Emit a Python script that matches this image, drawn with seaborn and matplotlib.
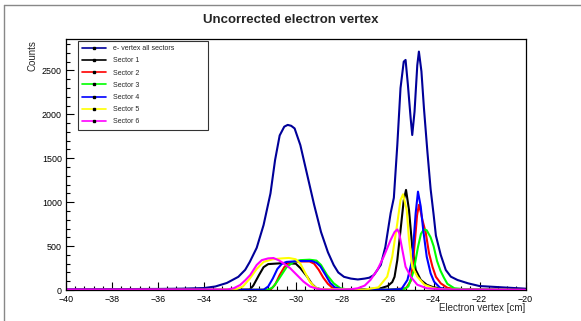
import numpy as np
import pandas as pd
import matplotlib
matplotlib.use("Agg")
import matplotlib.pyplot as plt
from matplotlib.lines import Line2D
from matplotlib.ticker import MultipleLocator
import seaborn as sns

# ---- data: electron vertex z [cm] vs counts ----
all_x = [-40, -38, -36, -35, -34, -33.5, -33, -32.5, -32.2, -32.0, -31.7, -31.4, -31.1, -30.9,
         -30.7, -30.5, -30.35, -30.2, -30.05, -29.8, -29.5, -29.2, -28.9, -28.6, -28.35, -28.15,
         -27.9, -27.6, -27.3, -27.0, -26.8, -26.6, -26.3, -26.1, -25.87, -25.73, -25.58, -25.44,
         -25.3, -25.22, -25.12, -25.0, -24.93, -24.83, -24.71, -24.64, -24.53, -24.42, -24.27,
         -24.13, -24.0, -23.9, -23.69, -23.47, -23.25, -22.96, -22.5, -22.0, -21.0, -20.0]
all_y = [8, 10, 12, 15, 22, 40, 80, 150, 230, 320, 480, 740, 1100, 1480,
         1760, 1860, 1880, 1870, 1840, 1650, 1310, 970, 660, 430, 285, 200,
         150, 130, 120, 130, 140, 170, 285, 490, 875, 1050, 1650, 2300,
         2600, 2620, 2340, 1960, 1765, 2030, 2560, 2715, 2490, 2070, 1575,
         1150, 860, 620, 400, 228, 152, 114, 76, 45, 30, 15]

s1_x = [-40, -33, -32.0, -31.85, -31.6, -31.4, -31.2, -30.6, -30.0, -29.8, -29.5, -29.3, -29.1,
        -28.8, -28.0, -27.0, -26.3, -26.0, -25.8, -25.7, -25.58, -25.44, -25.3, -25.2, -25.07,
        -24.93, -24.78, -24.56, -24.3, -24.0, -23.5, -22.0, -20.0]
s1_y = [0, 2, 5, 50, 170, 260, 295, 305, 300, 250, 150, 70, 20,
        5, 4, 8, 20, 45, 90, 150, 340, 680, 1020, 1140, 910,
        490, 230, 115, 60, 30, 12, 3, 0]

s2_x = [-40, -33, -31.1, -30.9, -30.7, -30.5, -30.3, -29.9, -29.4, -29.2, -29.0, -28.8, -28.6,
        -28.4, -28.1, -26.0, -25.2, -25.0, -24.9, -24.8, -24.72, -24.64, -24.55, -24.49, -24.34,
        -24.2, -24.05, -23.9, -23.69, -23.4, -23.0, -20.0]
s2_y = [0, 1, 3, 60, 170, 260, 310, 325, 325, 300, 230, 140, 70,
        25, 8, 3, 20, 100, 300, 600, 850, 970, 880, 800, 650,
        420, 265, 150, 76, 25, 8, 0]

s3_x = [-40, -33, -31.2, -31.0, -30.8, -30.6, -30.4, -30.1, -29.8, -29.4, -29.1, -28.9, -28.64,
        -28.35, -28.06, -27.7, -26.0, -25.3, -25.1, -24.95, -24.86, -24.68, -24.55, -24.42,
        -24.3, -24.13, -24.0, -23.85, -23.7, -23.55, -23.4, -23.1, -22.5, -20.0]
s3_y = [0, 1, 3, 30, 100, 180, 260, 320, 340, 345, 335, 285, 171,
        76, 20, 5, 3, 10, 40, 150, 228, 490, 640, 690,
        680, 600, 500, 330, 220, 140, 70, 20, 5, 0]

s4_x = [-40, -33, -31.4, -31.2, -31.0, -30.8, -30.6, -30.4, -29.8, -29.3, -29.1, -28.93, -28.7,
        -28.5, -28.3, -28.0, -26.0, -25.4, -25.14, -24.93, -24.78, -24.68, -24.56, -24.45,
        -24.3, -24.13, -23.98, -23.7, -23.3, -20.0]
s4_y = [0, 1, 3, 40, 130, 240, 300, 320, 330, 330, 310, 270, 170,
        80, 30, 8, 3, 10, 114, 342, 875, 1120, 950, 680,
        380, 190, 95, 20, 5, 0]

s5_x = [-40, -33.5, -32.6, -32.3, -32.0, -31.7, -31.4, -31.0, -30.6, -30.3, -30.0, -29.8, -29.6,
        -29.4, -29.2, -29.0, -27.0, -26.4, -26.02, -25.8, -25.58, -25.44, -25.33, -25.17,
        -25.07, -24.93, -24.71, -24.4, -24.0, -23.5, -20.0]
s5_y = [0, 2, 8, 40, 130, 240, 320, 350, 360, 365, 350, 300, 200,
        100, 40, 10, 5, 30, 152, 380, 760, 1025, 1090, 910,
        570, 265, 152, 60, 20, 5, 0]

s6_x = [-40, -36, -33.0, -32.7, -32.42, -32.2, -31.98, -31.7, -31.48, -31.2, -30.97, -30.75,
        -30.53, -30.24, -29.95, -29.66, -29.37, -29.0, -28.5, -27.6, -27.3, -27.0, -26.75,
        -26.45, -26.17, -25.87, -25.7, -25.58, -25.5, -25.36, -25.22, -25.0, -24.71, -24.3,
        -23.5, -20.0]
s6_y = [5, 6, 5, 20, 57, 110, 171, 285, 340, 360, 364, 340,
        304, 247, 171, 95, 38, 10, 3, 8, 20, 50, 114,
        228, 380, 570, 660, 690, 650, 456, 265, 152, 60, 20,
        5, 2]

series_names = ["e- vertex all sectors", "Sector 1", "Sector 2", "Sector 3",
                "Sector 4", "Sector 5", "Sector 6"]
series_x = [all_x, s1_x, s2_x, s3_x, s4_x, s5_x, s6_x]
series_y = [all_y, s1_y, s2_y, s3_y, s4_y, s5_y, s6_y]
colors = ["#000099", "#000000", "#ff0000", "#00ff00", "#0000ff", "#ffff00", "#ff00ff"]

frames = [pd.DataFrame({"vz": x, "counts": y, "series": n})
          for n, x, y in zip(series_names, series_x, series_y)]
df = pd.concat(frames, ignore_index=True)

sns.set_theme(style="white")
plt.rcParams["font.family"] = ["Liberation Sans", "DejaVu Sans"]

fig = plt.figure(figsize=(5.81, 3.21), dpi=100)
ax = fig.add_axes([66 / 581, 1 - 290 / 321, (525.5 - 66) / 581, (290 - 38.5) / 321])

sns.lineplot(data=df, x="vz", y="counts", hue="series", hue_order=series_names,
             palette=colors, estimator=None, sort=False, linewidth=1.5,
             legend=False, ax=ax)

ax.set_xlim(-40, -20)
ax.set_ylim(0, 2864)

# axis frame and ticks
for sp in ax.spines.values():
    sp.set_visible(True)
    sp.set_color("black")
    sp.set_linewidth(0.9)
ax.xaxis.set_major_locator(MultipleLocator(2))
ax.xaxis.set_minor_locator(MultipleLocator(0.4))
ax.yaxis.set_major_locator(MultipleLocator(500))
ax.yaxis.set_minor_locator(MultipleLocator(100))
ax.tick_params(which="both", direction="in", bottom=True, left=True, top=False,
               right=False, colors="black", width=0.8, labelsize=6.4)
ax.tick_params(axis="x", pad=3.5)
ax.tick_params(axis="y", pad=3)
ax.tick_params(which="major", length=6)
ax.tick_params(which="minor", length=3)

ax.set_xlabel("")
ax.set_ylabel("")
fig.text(525 / 581, 1 - 308 / 321, "Electron vertex [cm]", ha="right", va="center",
         fontsize=7)
fig.text(32 / 581, 1 - 40 / 321, "Counts", ha="center", va="top", rotation=90,
         fontsize=7)
fig.text(291 / 581, 1 - 20 / 321, "Uncorrected electron vertex", ha="center",
         va="center", fontsize=9.5, fontweight="bold")

# legend
handles = [Line2D([], [], color=c, lw=1.2, marker="s", markersize=1.5,
                  markerfacecolor="black", markeredgecolor="black")
           for c in colors]
leg = ax.legend(handles, series_names, loc="upper left",
                bbox_to_anchor=(0.026, 0.648, 0.283, 0.342), mode="expand",
                borderaxespad=0, fontsize=5.0, handlelength=3.5, handletextpad=0.9,
                labelspacing=0.75, borderpad=0.6, frameon=True, fancybox=False)
leg.get_frame().set_edgecolor("black")
leg.get_frame().set_linewidth(0.8)

# canvas border
fig.add_artist(Line2D([4 / 581, 1.0], [1 - 4.5 / 321] * 2, color="#888888", lw=1.0))
fig.add_artist(Line2D([4 / 581] * 2, [0.0, 1 - 4.5 / 321], color="#888888", lw=1.0))

fig.savefig("out.png", dpi=100)
